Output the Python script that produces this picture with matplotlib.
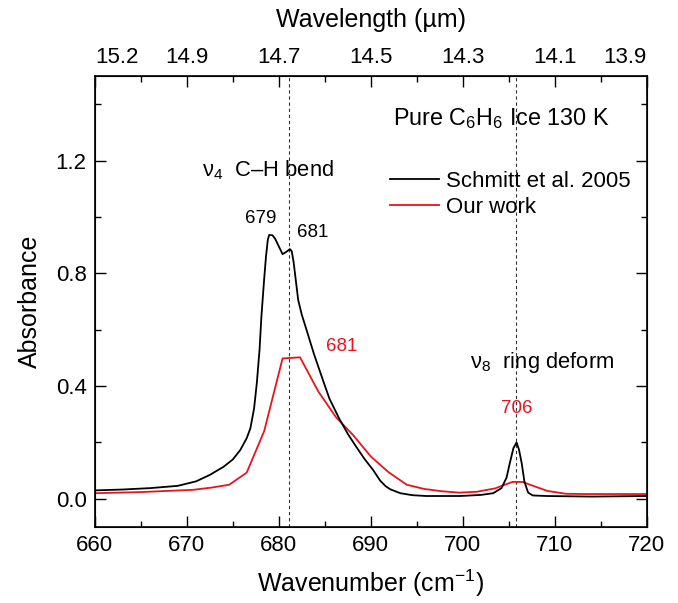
import matplotlib
matplotlib.use("Agg")
import matplotlib.pyplot as plt
from matplotlib.ticker import MultipleLocator

plt.rcParams["font.family"] = ["Liberation Sans", "DejaVu Sans"]
plt.rcParams["mathtext.fontset"] = "custom"
plt.rcParams["mathtext.rm"] = "Liberation Sans"
plt.rcParams["mathtext.it"] = "Liberation Sans:italic"
plt.rcParams["mathtext.default"] = "regular"

# Schmitt et al. 2005 spectrum (wavenumber, absorbance)
schmitt_wn = [660.0, 663.0, 666.0, 669.0, 671.0, 672.5, 674.0, 675.0, 675.8, 676.5,
              676.9, 677.3, 677.6, 677.9, 678.1, 678.4, 678.6, 678.8, 678.95, 679.3,
              679.6, 680.0, 680.4, 680.8, 681.2, 681.4, 681.6, 682.1, 682.5, 683.0,
              683.8, 684.8, 685.5, 686.6, 687.5, 688.4, 689.3, 690.25, 691.0, 691.6,
              692.1, 693.2, 694.5, 696.0, 699.7, 702.0, 703.3, 704.2, 704.75, 705.1,
              705.5, 705.84, 706.1, 706.4, 706.7, 707.1, 707.6, 709.1, 714.0, 720.0]
schmitt_abs = [0.030, 0.033, 0.038, 0.046, 0.062, 0.085, 0.114, 0.140, 0.173, 0.215,
               0.250, 0.320, 0.410, 0.530, 0.647, 0.780, 0.860, 0.920, 0.936, 0.935,
               0.922, 0.895, 0.868, 0.876, 0.886, 0.878, 0.840, 0.705, 0.652, 0.600,
               0.515, 0.420, 0.355, 0.282, 0.230, 0.185, 0.142, 0.102, 0.065, 0.045,
               0.034, 0.020, 0.013, 0.010, 0.010, 0.014, 0.020, 0.038, 0.075, 0.126,
               0.180, 0.200, 0.175, 0.126, 0.060, 0.022, 0.012, 0.010, 0.008, 0.010]

# This work (wavenumber, absorbance)
ours_wn = [660.0, 665.0, 670.7, 672.7, 674.6, 676.5, 678.4, 680.4, 682.3, 684.3,
           686.2, 688.1, 690.0, 691.9, 693.9, 695.8, 697.7, 699.6, 701.5, 703.5,
           705.4, 706.5, 707.3, 709.2, 711.2, 713.1, 720.0]
ours_abs = [0.020, 0.024, 0.032, 0.040, 0.050, 0.093, 0.240, 0.498, 0.502, 0.380,
            0.290, 0.225, 0.150, 0.095, 0.050, 0.035, 0.027, 0.022, 0.025, 0.037,
            0.060, 0.060, 0.050, 0.028, 0.018, 0.017, 0.017]

# band positions marked with dashed lines
band_positions = [681.1, 705.8]

bottom_ticks = [660, 670, 680, 690, 700, 710, 720]
top_labels = ["15.2", "14.9", "14.7", "14.5", "14.3", "14.1", "13.9"]
y_ticks = [0.0, 0.4, 0.8, 1.2]

fig = plt.figure(figsize=(6.78, 6.03), dpi=100)
ax = fig.add_axes([0.140, 0.126, 0.814, 0.748])

for xb in band_positions:
    ax.axvline(xb, color="#333333", lw=0.8, ls=(0, (3, 2.5)), zorder=1)

ax.plot(schmitt_wn, schmitt_abs, color="black", lw=1.3, label="Schmitt et al. 2005", zorder=3)
ax.plot(ours_wn, ours_abs, color="#e8141c", lw=1.3, label="Our work", zorder=2)

ax.set_xlim(660, 720)
ax.set_ylim(-0.1, 1.5)
ax.set_xticks(bottom_ticks)
ax.xaxis.set_minor_locator(MultipleLocator(5))
ax.set_yticks(y_ticks)
ax.set_yticklabels([f"{v:.1f}" for v in y_ticks])
ax.yaxis.set_minor_locator(MultipleLocator(0.2))

ax.tick_params(which="both", direction="in", top=False, right=True, width=1.0)
ax.tick_params(which="major", length=8, labelsize=16, pad=6)
ax.tick_params(which="minor", length=4)
for s in ax.spines.values():
    s.set_linewidth(1.2)

ax.set_xlabel("Wavenumber (cm$^{-1}$)", fontsize=18, labelpad=8)
ax.set_ylabel("Absorbance", fontsize=18, labelpad=10)

# wavelength axis on top
ax2 = ax.twiny()
ax2.set_xlim(ax.get_xlim())
ax2.set_xticks(bottom_ticks)
ax2.set_xticklabels(top_labels)
ax2.xaxis.set_minor_locator(MultipleLocator(5))
ax2.tick_params(which="both", direction="in", width=1.0)
ax2.tick_params(which="major", length=8, labelsize=16, pad=6)
ax2.tick_params(which="minor", length=4)
tl = ax2.get_xticklabels()
tl[0].set_ha("left")
tl[-1].set_ha("right")
ax2.set_xlabel("Wavelength (\u00b5m)", fontsize=18, labelpad=14)

# annotations
ax.text(692.4, 1.350, "Pure C$_6$H$_6$ Ice 130 K", fontsize=16.8, ha="left", va="center")
ax.text(671.6, 1.166, "\u03bd$_4$  C\u2013H bend", fontsize=15.8, ha="left", va="center")
ax.text(678.0, 0.996, "679", fontsize=13.5, ha="center", va="center")
ax.text(683.7, 0.943, "681", fontsize=13.5, ha="center", va="center")
ax.text(686.85, 0.539, "681", fontsize=13.5, ha="center", va="center", color="#e8141c")
ax.text(700.8, 0.482, "\u03bd$_8$  ring deform", fontsize=15.8, ha="left", va="center")
ax.text(705.9, 0.322, "706", fontsize=13.5, ha="center", va="center", color="#e8141c")

ax.legend(loc="upper left", bbox_to_anchor=(0.535, 0.789), frameon=False, fontsize=16,
          handlelength=2.2, handletextpad=0.3, labelspacing=0.2,
          borderpad=0, borderaxespad=0)

fig.savefig("out.png", dpi=100)
